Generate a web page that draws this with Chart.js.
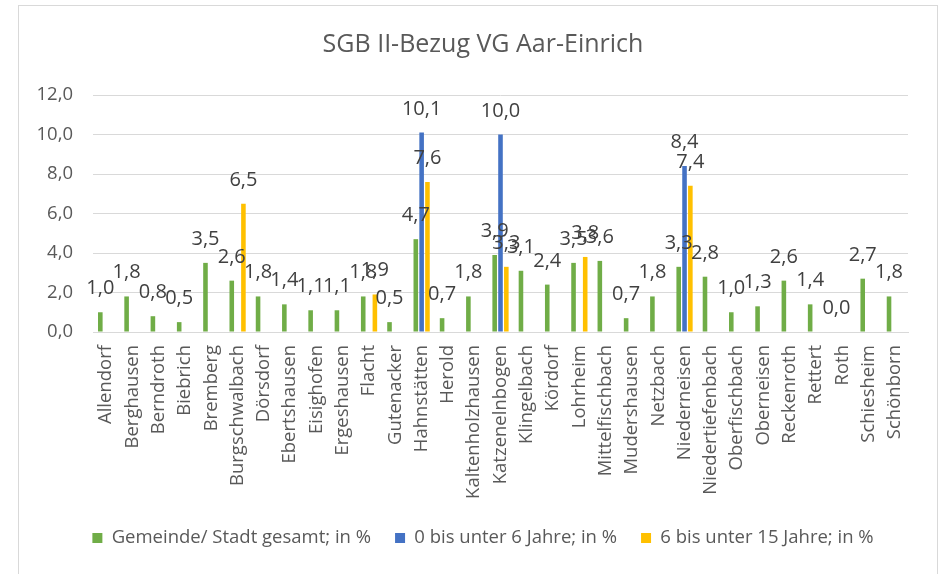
<!DOCTYPE html>
<html lang="de">
<head>
<meta charset="utf-8">
<title>SGB II-Bezug VG Aar-Einrich</title>
<script src="https://cdn.jsdelivr.net/npm/chart.js@4.4.1/dist/chart.umd.min.js"></script>
<style>
  html, body { margin: 0; padding: 0; background: #fff; overflow: hidden; }
  .frame { position: absolute; left: 18px; top: 5px; width: 918px; height: 600px; border: 1px solid #d9d9d9; }
  #chart { position: absolute; left: 0; top: 0; }
</style>
</head>
<body>
<div class="frame"></div>
<canvas id="chart" width="942" height="574"></canvas>
<script>
// Gemeinden der VG Aar-Einrich
const gemeinden = [
  'Allendorf', 'Berghausen', 'Berndroth', 'Biebrich', 'Bremberg', 'Burgschwalbach',
  'Dörsdorf', 'Ebertshausen', 'Eisighofen', 'Ergeshausen', 'Flacht', 'Gutenacker',
  'Hahnstätten', 'Herold', 'Kaltenholzhausen', 'Katzenelnbogen', 'Klingelbach',
  'Kördorf', 'Lohrheim', 'Mittelfischbach', 'Mudershausen', 'Netzbach', 'Niederneisen',
  'Niedertiefenbach', 'Oberfischbach', 'Oberneisen', 'Reckenroth', 'Rettert', 'Roth',
  'Schiesheim', 'Schönborn'
];

// SGB II-Quote in %
const gesamt = [
  1.0, 1.8, 0.8, 0.5, 3.5, 2.6, 1.8, 1.4, 1.1, 1.1, 1.8, 0.5, 4.7, 0.7, 1.8, 3.9,
  3.1, 2.4, 3.5, 3.6, 0.7, 1.8, 3.3, 2.8, 1.0, 1.3, 2.6, 1.4, 0.0, 2.7, 1.8
];
const unter6 = [
  null, null, null, null, null, null, null, null, null, null, null, null, 10.1, null, null, 10.0,
  null, null, null, null, null, null, 8.4, null, null, null, null, null, null, null, null
];
const unter15 = [
  null, null, null, null, null, 6.5, null, null, null, null, 1.9, null, 7.6, null, null, 3.3,
  null, null, 3.8, null, null, null, 7.4, null, null, null, null, null, null, null, null
];

const yTicks = [0, 2, 4, 6, 8, 10, 12];

const fmt = v => v.toFixed(1).replace('.', ',');

// Werte über den Säulen (wie Excel-Datenbeschriftung "Ende außerhalb")
const valueLabels = {
  id: 'valueLabels',
  afterDatasetsDraw(chart) {
    const ctx = chart.ctx;
    ctx.save();
    ctx.font = '20px "Open Sans"';
    ctx.fillStyle = '#404040';
    ctx.textAlign = 'center';
    ctx.textBaseline = 'alphabetic';
    chart.data.datasets.forEach((ds, i) => {
      chart.getDatasetMeta(i).data.forEach((bar, j) => {
        const v = ds.data[j];
        if (v === null || v === undefined) return;
        ctx.fillText(fmt(v), bar.x, bar.y - 18);
      });
    });
    ctx.restore();
  }
};

Chart.defaults.font.family = "'Open Sans', sans-serif";
Chart.defaults.color = '#595959';

const barStyle = { borderWidth: 0, categoryPercentage: 0.665, barPercentage: 0.787 };

new Chart(document.getElementById('chart'), {
  type: 'bar',
  data: {
    labels: gemeinden,
    datasets: [
      { label: 'Gemeinde/ Stadt gesamt; in %', data: gesamt, backgroundColor: '#70AD47', ...barStyle },
      { label: '0 bis unter 6 Jahre; in %', data: unter6, backgroundColor: '#4472C4', ...barStyle },
      { label: '6 bis unter 15 Jahre; in %', data: unter15, backgroundColor: '#FFC000', ...barStyle }
    ]
  },
  options: {
    responsive: false,
    animation: false,
    layout: { padding: { left: 24, right: 0, top: 5, bottom: 16.75 } },
    plugins: {
      title: {
        display: true,
        text: 'SGB II-Bezug VG Aar-Einrich',
        color: '#595959',
        font: { size: 25, weight: 'normal' },
        padding: { top: 25, bottom: 35 }
      },
      legend: {
        position: 'bottom',
        labels: {
          boxWidth: 10,
          boxHeight: 10,
          padding: 24,
          color: '#595959',
          font: { size: 18.5 }
        }
      },
      tooltip: { enabled: false }
    },
    scales: {
      x: {
        grid: { display: false, drawTicks: false },
        border: { color: '#d9d9d9' },
        ticks: {
          autoSkip: false,
          minRotation: 90,
          maxRotation: 90,
          padding: 13,
          color: '#595959',
          font: { size: 18.5 }
        },
        afterFit: s => { s.height = 172.75; }
      },
      y: {
        min: 0,
        max: 12,
        grid: { color: '#d9d9d9', drawTicks: false },
        border: { display: false },
        ticks: {
          stepSize: 2,
          padding: 20,
          color: '#595959',
          font: { size: 18.5 },
          callback: v => yTicks.includes(v) ? fmt(v) : ''
        },
        afterFit: s => { s.width = 69; }
      },
      // leere Achse rechts, hält den Plotbereich bei x = 908
      rechts: {
        position: 'right',
        grid: { display: false, drawTicks: false },
        border: { display: false },
        ticks: { display: false },
        afterFit: s => { s.width = 34; }
      }
    }
  },
  plugins: [valueLabels]
});
</script>
</body>
</html>
